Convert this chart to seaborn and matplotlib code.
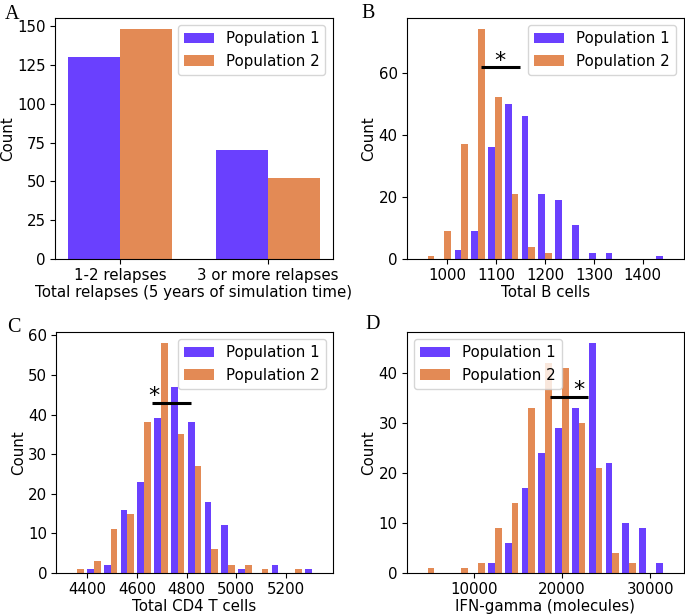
import numpy as np
import pandas as pd
import matplotlib
matplotlib.use("Agg")
import matplotlib.pyplot as plt
import seaborn as sns

# ---------------- data ----------------
populations = ["Population 1", "Population 2"]
pop_colors = ["#6A40FE", "#E38A55"]

# Panel A
relapse_categories = ["1-2 relapses", "3 or more relapses"]
relapse_pop1 = [130, 70]
relapse_pop2 = [148, 52]

# Panel B (15 equal bins over range)
bcell_range = (943, 1458)
bcell_pop1 = [0, 0, 3, 9, 36, 50, 46, 21, 19, 11, 2, 2, 0, 0, 1]
bcell_pop2 = [1, 9, 37, 74, 52, 21, 4, 2, 0, 0, 0, 0, 0, 0, 0]
bcell_sig = (1070, 1149, 61.8)      # x0, x1, y of bar
bcell_star = (1107, 63.9)

# Panel C
cd4_range = (4324, 5340)
cd4_pop1 = [0, 1, 2, 16, 23, 39, 47, 38, 18, 12, 1, 0, 2, 0, 1]
cd4_pop2 = [1, 3, 11, 15, 38, 58, 35, 27, 6, 2, 2, 1, 0, 1, 0]
cd4_sig = (4662, 4816, 42.8)
cd4_star = (4669, 44.6)

# Panel D
ifn_range = (3778, 32379)
ifn_pop1 = [0, 0, 0, 0, 2, 6, 17, 24, 29, 33, 46, 22, 10, 9, 2]
ifn_pop2 = [1, 0, 1, 2, 9, 14, 33, 42, 41, 30, 21, 4, 2, 0, 0]
ifn_sig = (18657, 22948, 35.3)
ifn_star = (21940, 36.7)

plt.rcParams["font.family"] = ["DejaVu Sans"]
plt.rcParams["font.size"] = 10.8
plt.rcParams["axes.labelpad"] = 1.5
plt.rcParams["xtick.major.pad"] = 3.0
plt.rcParams["ytick.major.pad"] = 3.0

fig = plt.figure(figsize=(6.85, 6.15), dpi=100)
axA = fig.add_axes([0.0803, 0.5789, 0.4058, 0.3924])
axB = fig.add_axes([0.5937, 0.5789, 0.4044, 0.3924])
axC = fig.add_axes([0.0818, 0.0683, 0.4044, 0.3923])
axD = fig.add_axes([0.5937, 0.0683, 0.4044, 0.3923])

# ---------------- panel A ----------------
dfA = pd.DataFrame({
    "category": relapse_categories * 2,
    "count": relapse_pop1 + relapse_pop2,
    "population": np.repeat(populations, len(relapse_categories)),
})
sns.barplot(data=dfA, x="category", y="count", hue="population",
            palette=pop_colors, width=0.7, saturation=1, errorbar=None,
            linewidth=0, ax=axA)
axA.set_xlim(-0.437, 1.437)
axA.set_ylim(0, 155.4)
axA.set_yticks([0, 25, 50, 75, 100, 125, 150])
axA.set_xlabel("Total relapses (5 years of simulation time)")
axA.set_ylabel("Count")
sns.move_legend(axA, "upper right", title=None)


# ---------------- histogram panels ----------------
def dodged_hist(ax, rng, c1, c2):
    lo, hi = rng
    n = len(c1)
    w = (hi - lo) / n
    left = lo + w * np.arange(n)
    edges = np.sort(np.concatenate([left + 0.1 * w, left + 0.5 * w, left + 0.9 * w]))
    df = pd.DataFrame({
        "value": np.concatenate([left + 0.3 * w, left + 0.7 * w]),
        "count": np.concatenate([c1, c2]).astype(float),
        "population": np.repeat(populations, n),
    })
    sns.histplot(data=df, x="value", weights="count", hue="population",
                 hue_order=populations, bins=[float(e) for e in edges],
                 multiple="layer", palette=pop_colors, alpha=1, linewidth=0,
                 ax=ax)
    m = 0.05 * (hi - lo)
    ax.set_xlim(lo - m, hi + m)
    ymax = max(max(c1), max(c2))
    ax.set_ylim(0, ymax * 1.05)
    ax.set_ylabel("Count")


def sig(ax, line, star):
    x0, x1, y = line
    ax.plot([x0, x1], [y, y], color="black", linewidth=2.2, solid_capstyle="butt")
    ax.text(star[0], star[1], "*", ha="center", va="center", fontsize=16)


dodged_hist(axB, bcell_range, bcell_pop1, bcell_pop2)
axB.set_xticks([1000, 1100, 1200, 1300, 1400])
axB.set_yticks([0, 20, 40, 60])
axB.set_xlabel("Total B cells")
sig(axB, bcell_sig, bcell_star)
sns.move_legend(axB, "upper right", title=None)

dodged_hist(axC, cd4_range, cd4_pop1, cd4_pop2)
axC.set_xticks([4400, 4600, 4800, 5000, 5200])
axC.set_yticks([0, 10, 20, 30, 40, 50, 60])
axC.set_xlabel("Total CD4 T cells")
sig(axC, cd4_sig, cd4_star)
sns.move_legend(axC, "upper right", title=None)

dodged_hist(axD, ifn_range, ifn_pop1, ifn_pop2)
axD.set_xticks([10000, 20000, 30000])
axD.set_yticks([0, 10, 20, 30, 40])
axD.set_xlabel("IFN-gamma (molecules)")
sig(axD, ifn_sig, ifn_star)
sns.move_legend(axD, "upper left", title=None)

# ---------------- panel letters ----------------
for x, y, lab in [(0.0073, 0.969, "A"), (0.527, 0.9705, "B"),
                  (0.0102, 0.460, "C"), (0.534, 0.465, "D")]:
    fig.text(x, y, lab, family="Liberation Serif", fontsize=14.5, va="baseline")

fig.savefig("out.png", dpi=100)
